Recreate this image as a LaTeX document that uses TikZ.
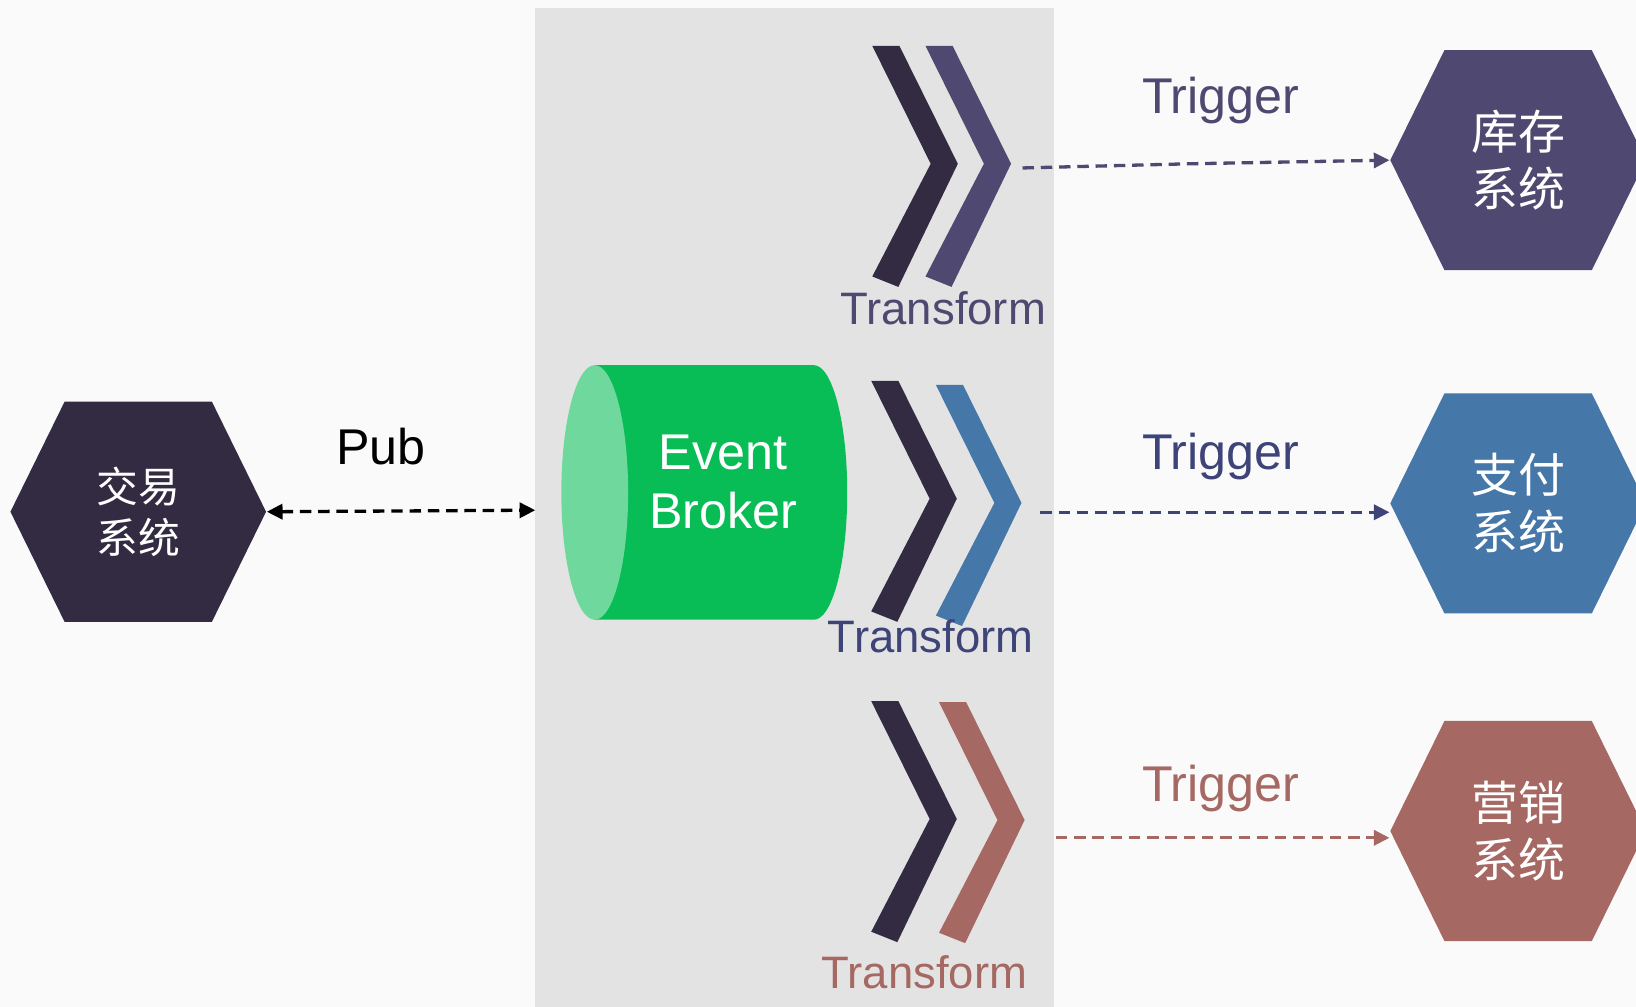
\documentclass[tikz,border=0pt]{standalone}
\usepackage{fontspec}
\setmainfont{Liberation Sans}
\newfontfamily\cjk{Noto Sans CJK SC}
\usetikzlibrary{shapes.geometric,shapes.symbols,arrows.meta}

\definecolor{bgcol}{HTML}{FAFAFB}
\definecolor{panelgray}{HTML}{E3E3E3}
\definecolor{darkchev}{HTML}{332B42}
\definecolor{stockpurple}{HTML}{4F4870}
\definecolor{paynavy}{HTML}{3E4478}
\definecolor{payblue}{HTML}{4577A8}
\definecolor{mktred}{HTML}{A56862}
\definecolor{brokergreen}{HTML}{08BD55}
\definecolor{brokerlight}{HTML}{6FD99D}

% one arm of the double chevron: left x, middle y, colour
\newcommand{\chevron}[3]{%
  \fill[#3] (#1,#2+1.13) -- (#1+0.26,#2+1.13) -- (#1+0.82,#2)
    -- (#1+0.25,#2-1.18) -- (#1,#2-1.08) -- (#1+0.56,#2) -- cycle;}

\tikzset{
  syshex/.style={signal, signal to=east and west, signal pointer angle=127.6,
    minimum width=2.45cm, minimum height=2.11cm, inner sep=0pt,
    text=white, align=center},
  biglabel/.style={font=\fontsize{13.7}{15.9}\selectfont},
  translabel/.style={font=\fontsize{12.4}{15}\selectfont},
  pubarrow/.style={line width=0.9pt, dash pattern=on 0.11cm off 0.065cm,
    {Triangle[length=0.15cm,width=0.145cm]}-{Triangle[length=0.15cm,width=0.145cm]}},
  trigarrow/.style={line width=0.9pt, dash pattern=on 0.11cm off 0.065cm,
    -{Triangle[length=0.15cm,width=0.145cm]}}
}

\begin{document}
\begin{tikzpicture}
    % Background and broker panel
    \useasboundingbox (0,0) rectangle (15.68,9.65);
    \clip (0,0) rectangle (15.68,9.65);
    \fill[bgcol] (0,0) rectangle (15.68,9.65);
    \fill[panelgray] (5.13,0) rectangle (10.10,9.57);

    % Trade system
    \node[syshex, fill=darkchev, font=\cjk\fontsize{11.4}{13.9}\selectfont] (trade) at (1.325,4.745) {交易\\系统};

    % Pub
    \node[biglabel] (pub) at (3.65,5.37) {Pub};
    \coordinate (pubend) at (5.13,4.76);
    \draw[pubarrow] (trade.east) -- (pubend);

    % Event broker
    \fill[brokergreen] (5.70,6.15) -- (7.80,6.15)
        arc[start angle=90, end angle=-90, x radius=0.32, y radius=1.22] -- (5.70,3.71) -- cycle;
    \fill[brokerlight] (5.70,4.93) ellipse[x radius=0.32, y radius=1.22];
    \node[biglabel, text=white, align=center] (broker) at (6.93,5.03) {Event\\Broker};

    % Transforms
    \chevron{8.36}{8.08}{darkchev}
    \chevron{8.87}{8.08}{stockpurple}
    \chevron{8.35}{4.87}{darkchev}
    \chevron{8.97}{4.83}{payblue}
    \chevron{8.35}{1.80}{darkchev}
    \chevron{9.00}{1.79}{mktred}
    \node[translabel, text=stockpurple] (trans1) at (9.04,6.70) {Transform};
    \node[translabel, text=paynavy] (trans2) at (8.92,3.55) {Transform};
    \node[translabel, text=mktred] (trans3) at (8.86,0.33) {Transform};

    % Downstream systems
    \node[syshex, fill=stockpurple, font=\cjk\fontsize{12.8}{15.6}\selectfont] (stock) at (14.55,8.115) {库存\\系统};
    \node[syshex, fill=payblue, font=\cjk\fontsize{12.8}{15.6}\selectfont] (pay) at (14.55,4.825) {支付\\系统};
    \node[syshex, fill=mktred, font=\cjk\fontsize{12.8}{15.6}\selectfont] (mkt) at (14.55,1.685) {营销\\系统};

    % Triggers
    \node[biglabel, text=stockpurple] (trig1) at (11.70,8.69) {Trigger};
    \node[biglabel, text=paynavy] (trig2) at (11.70,5.27) {Trigger};
    \node[biglabel, text=mktred] (trig3) at (11.70,2.09) {Trigger};
    \coordinate (out1) at (9.80,8.04);
    \coordinate (out2) at (9.97,4.74);
    \coordinate (out3) at (10.12,1.62);
    \draw[trigarrow, stockpurple] (out1) -- (11.40,8.08) -- (stock.west);
    \draw[trigarrow, paynavy] (out2) -- (pay.west |- out2);
    \draw[trigarrow, mktred] (out3) -- (mkt.west |- out3);
\end{tikzpicture}
\end{document}
